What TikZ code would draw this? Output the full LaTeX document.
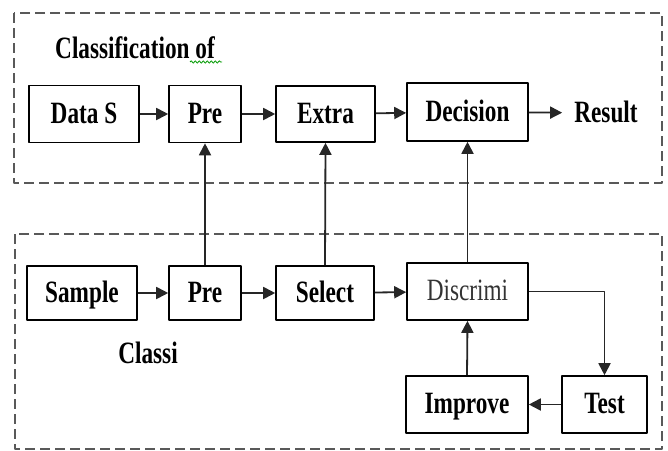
\documentclass[tikz,border=0pt]{standalone}
\usepackage{fontspec}
\setmainfont{Liberation Serif}[FakeStretch=0.75]
\usetikzlibrary{arrows.meta,decorations.pathmorphing}
\begin{document}
\begin{tikzpicture}[x=1pt,y=-1pt,>={Triangle[length=12pt,width=12pt]}, font=\fontsize{31}{36}\selectfont\bfseries, line join=round,
	blk/.style={draw, line width=1.6pt, inner sep=0pt, text height=23pt, text depth=5pt},
	lbl/.style={inner sep=0pt, text height=23pt, text depth=5pt},
	conn/.style={->, line width=1.8pt, color=black!85},
	frame/.style={draw=black!65, line width=1.6pt, dash pattern=on 10pt off 5pt}]
	\useasboundingbox (0,0) rectangle (668,450);
	\def\ytop{114} \def\ybot{293}
	% Khung
	\draw[frame] (14,13) rectangle (662,183);
	\draw[frame] (15,234) rectangle (662,449);
	\node (title) at (135,49) [lbl]{Classification of};
	\draw[green!60!black, line width=0.8pt, decorate, decoration={snake, amplitude=1.2pt, segment length=4pt}] (190,62)--(222,62);
	% Hang tren
	\node (ds) at (84,\ytop) [blk, minimum width=110pt, minimum height=57pt]{Data S};
	\node (pt) at (205,\ytop) [blk, minimum width=72pt, minimum height=57pt]{Pre};
	\node (ex) at (325.5,\ytop) [blk, minimum width=99pt, minimum height=56pt]{Extra};
	\node (dec) at (467.5,112) [blk, minimum width=121pt, minimum height=58pt]{Decision};
	\node (res) at (606,113) [lbl, inner xsep=12pt]{Result};
	% Hang duoi
	\node (sam) at (82,\ybot) [blk, minimum width=110pt, minimum height=54pt]{Sample};
	\node (pb) at (205,\ybot) [blk, minimum width=72pt, minimum height=54pt]{Pre};
	\node (sel) at (325,\ybot) [blk, minimum width=98pt, minimum height=54pt]{Select};
	\node (dis) at (467.5,291.5) [blk, minimum width=121pt, minimum height=57pt, font=\fontsize{31}{36}\selectfont\mdseries, text=black!80]{Discrimi};
	\node (cls) at (148,354) [lbl]{Classi};
	\node (imp) at (467,404.5) [blk, minimum width=122pt, minimum height=57pt]{Improve};
	\node (test) at (604.5,404.5) [blk, minimum width=85pt, minimum height=57pt]{Test};
	\draw[conn] (ds)--(pt);
	\draw[conn] (pt)--(ex);
	\draw[conn] (ex)--(dec);
	\draw[conn] (dec)--(res);
	\draw[conn] (sam)--(pb);
	\draw[conn] (pb)--(sel);
	\draw[conn] (sel)--(dis);
	\draw[conn] (pb.north)--(pt.south);
	\draw[conn] (sel.north)--(ex.south);
	\draw[conn] (dis.north)--(dec.south);
	\draw[conn] (dis.east)-|(test.north);
	\draw[conn] (test)--(imp);
	\draw[conn] (imp.north)--(dis.south);
\end{tikzpicture}
\end{document}
